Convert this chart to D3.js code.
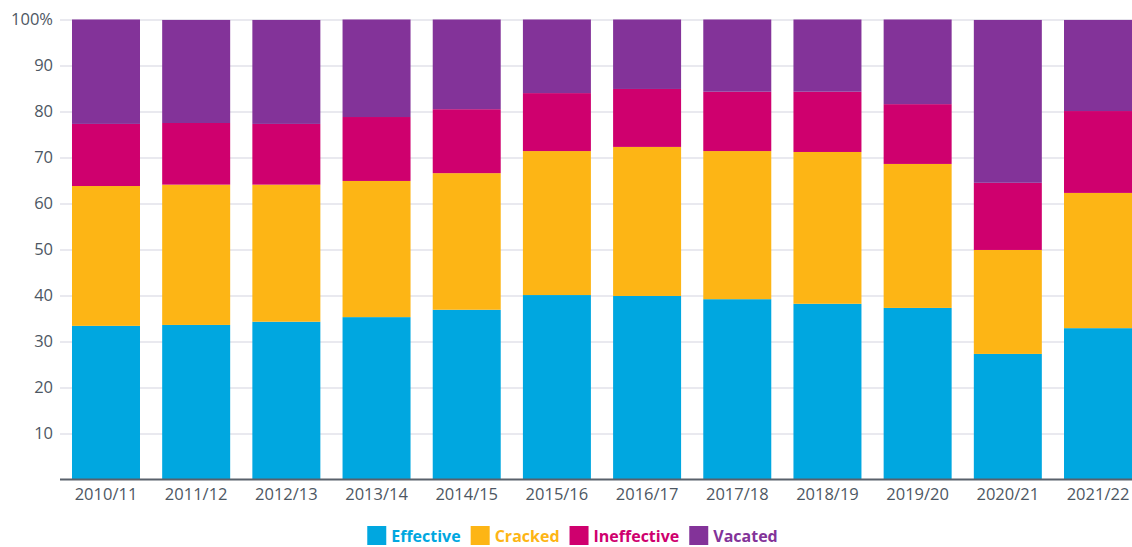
<!DOCTYPE html>
<html>
<head>
<meta charset="utf-8">
<script src="https://cdn.jsdelivr.net/npm/d3@7"></script>
<style>
  html, body { margin: 0; padding: 0; background: #fff; }
  svg { display: block; }
  svg text { font-family: "Open Sans", "Noto Sans", sans-serif; }
</style>
</head>
<body>
<svg id="chart" width="1132" height="547"></svg>
<script>
// Share of trials by outcome, per financial year (percent)
const years = ["2010/11", "2011/12", "2012/13", "2013/14", "2014/15", "2015/16",
               "2016/17", "2017/18", "2018/19", "2019/20", "2020/21", "2021/22"];
const effective   = [33.4, 33.6, 34.3, 35.3, 36.9, 40.1, 39.9, 39.2, 38.2, 37.3, 27.3, 32.9];
const cracked     = [30.4, 30.5, 29.8, 29.6, 29.7, 31.3, 32.4, 32.2, 33.0, 31.3, 22.6, 29.4];
const ineffective = [13.5, 13.4, 13.2, 13.9, 13.9, 12.6, 12.6, 12.9, 13.1, 13.0, 14.6, 17.8];
const vacated     = [22.7, 22.4, 22.6, 21.2, 19.5, 16.0, 15.1, 15.7, 15.7, 18.4, 35.4, 19.8];
const yTicks = [10, 20, 30, 40, 50, 60, 70, 80, 90, 100];

const seriesNames = ["Effective", "Cracked", "Ineffective", "Vacated"];
const seriesColors = ["#00a7e0", "#fdb515", "#cf006e", "#833399"];

const rows = years.map((yr, i) => ({
  year: yr,
  Effective: effective[i],
  Cracked: cracked[i],
  Ineffective: ineffective[i],
  Vacated: vacated[i]
}));

const svg = d3.select("#chart");
const plotLeft = 60, plotRight = 1144, plotTop = 19.5, plotBottom = 479.5;

const x = d3.scaleBand().domain(years).range([plotLeft, plotRight])
  .paddingInner(0.246).paddingOuter(0.133);
const y = d3.scaleLinear().domain([0, 100]).range([plotBottom, plotTop]);
const color = d3.scaleOrdinal().domain(seriesNames).range(seriesColors);

// Gridlines and y labels
const yAxis = svg.append("g")
  .attr("transform", `translate(${plotLeft},0)`)
  .call(d3.axisLeft(y).tickValues(yTicks)
    .tickSize(-(plotRight - plotLeft)).tickPadding(8)
    .tickFormat(d => d === 100 ? "100%" : d))
  .attr("font-family", null);
yAxis.select(".domain").remove();
yAxis.selectAll(".tick line").attr("stroke", "#e2e2ea").attr("stroke-width", 1.6);
yAxis.selectAll(".tick text").attr("fill", "#4d5763")
  .attr("font-size", 16.5).attr("x", -7);

// Stacked bars
const stacked = d3.stack().keys(seriesNames)(rows);
svg.append("g").selectAll("g").data(stacked).join("g")
  .attr("fill", d => color(d.key))
  .selectAll("rect").data(d => d).join("rect")
  .attr("x", d => x(d.data.year))
  .attr("width", x.bandwidth())
  .attr("y", d => y(d[1]))
  .attr("height", d => y(d[0]) - y(d[1]));

// X axis
const xAxis = svg.append("g")
  .attr("transform", `translate(0,${plotBottom})`)
  .call(d3.axisBottom(x).tickSize(0).tickPadding(9))
  .attr("font-family", null);
xAxis.select(".domain").attr("stroke", "#59616b").attr("stroke-width", 2)
  .attr("d", `M${plotLeft},0H${plotRight}`);
xAxis.selectAll(".tick text").attr("fill", "#4d5763").attr("font-size", 16.5);

// Legend, centred under the plot
const legend = svg.append("g").attr("transform", "translate(0,536)");
const items = legend.selectAll("g").data(seriesNames).join("g");
items.append("rect").attr("width", 19).attr("height", 19).attr("y", -10)
  .attr("fill", d => color(d));
items.append("text").attr("x", 24).attr("dy", "0.36em")
  .attr("font-size", 16).attr("font-weight", 700)
  .attr("fill", d => color(d)).text(d => d);
let cursor = 0;
const itemGap = 10;
items.each(function () {
  const w = this.getBBox().width;
  d3.select(this).attr("transform", `translate(${cursor},0)`);
  cursor += w + itemGap;
});
const legendWidth = cursor - itemGap;
const legendX = 369 + (772 - 369 - legendWidth) / 2 + 2;
legend.attr("transform", `translate(${legendX},536)`);
</script>
</body>
</html>
